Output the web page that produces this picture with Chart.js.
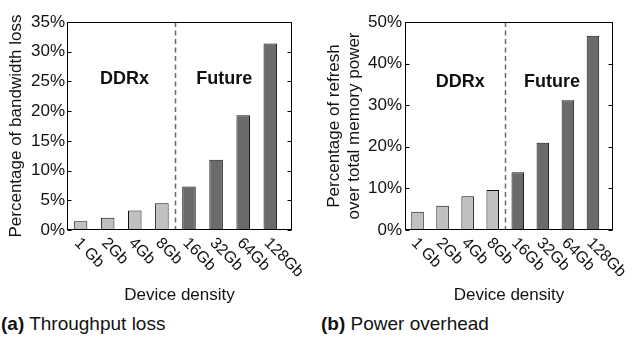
<!DOCTYPE html>
<html>
<head>
<meta charset="utf-8">
<script src="https://cdn.jsdelivr.net/npm/chart.js@4.4.1/dist/chart.umd.min.js"></script>
<style>
  html, body { margin: 0; padding: 0; background: #fff; }
  body { width: 633px; height: 343px; position: relative; overflow: hidden;
         font-family: "Liberation Sans", Arial, Helvetica, sans-serif; color: #111; }
  canvas { position: absolute; top: 0; }
  #ca { left: 0; }
  #cb { left: 316px; }
  .cap { position: absolute; top: 312px; font-size: 19px; line-height: 24px; white-space: nowrap; }
  #capA { left: 1px; }
  #capB { left: 321px; }
</style>
</head>
<body>
<canvas id="ca" width="316" height="310"></canvas>
<canvas id="cb" width="317" height="310"></canvas>
<div class="cap" id="capA"><b>(a)</b> Throughput loss</div>
<div class="cap" id="capB"><b>(b)</b> Power overhead</div>
<script>
// ---- data ----
const categories = ['1 Gb', '2Gb', '4Gb', '8Gb', '16Gb', '32Gb', '64Gb', '128Gb'];
const generation = ['DDRx', 'DDRx', 'DDRx', 'DDRx', 'Future', 'Future', 'Future', 'Future'];
const bandwidthLoss = [1.46, 2.07, 3.3, 4.5, 7.3, 11.8, 19.3, 31.4];
const refreshPower = [4.4, 5.8, 8.1, 9.6, 13.9, 21.0, 31.2, 46.7];
const xAxisTitle = 'Device density';
const yTitleA = 'Percentage of bandwidth loss';
const yTitleB = ['Percentage of refresh', 'over total memory power'];
const yTicksA = { max: 35, step: 5 };
const yTicksB = { max: 50, step: 10 };

// ---- styles ----
const FONT = '"Liberation Sans", Arial, Helvetica, sans-serif';
const colorFor = { DDRx: '#c0c0c0', Future: '#6b6b6b' };

const framePlugin = {
  id: 'frame',
  afterDraw(chart, args, opts) {
    const { ctx, chartArea: a, scales } = chart;
    const xs = scales.x, ys = scales.y;
    ctx.save();
    // dashed separator between generations
    const sx = Math.round(xs.getPixelForValue(opts.sepAt)) + 0.5;
    ctx.strokeStyle = '#6a6a6a';
    ctx.lineWidth = 1.5;
    ctx.setLineDash([5, 3.5]);
    ctx.beginPath();
    ctx.moveTo(sx, a.top);
    ctx.lineTo(sx, a.bottom);
    ctx.stroke();
    ctx.setLineDash([]);
    // box
    ctx.strokeStyle = '#000';
    ctx.lineWidth = 1;
    const L = Math.round(a.left) + 0.5, R = Math.round(a.right) - 0.5;
    const T = Math.round(a.top) + 0.5, B = Math.round(a.bottom) - 0.5;
    ctx.strokeRect(L, T, R - L, B - T);
    // inward y tick marks on both sides
    ys.ticks.forEach(t => {
      const y = Math.round(ys.getPixelForValue(t.value)) + 0.5;
      ctx.beginPath();
      ctx.moveTo(L, y); ctx.lineTo(L + 4, y);
      ctx.moveTo(R, y); ctx.lineTo(R - 4, y);
      ctx.stroke();
    });
    // rotated category labels
    ctx.fillStyle = '#111';
    ctx.font = '16px ' + FONT;
    ctx.textAlign = 'left';
    ctx.textBaseline = 'top';
    opts.labels.forEach((lab, i) => {
      const x = xs.getPixelForValue(i + 1);
      ctx.save();
      ctx.translate(x + 2, a.bottom + 5);
      ctx.rotate(Math.PI / 4);
      ctx.fillText(lab, 0, 0);
      ctx.restore();
    });
    // region annotations
    ctx.font = 'bold 18px ' + FONT;
    ctx.textAlign = 'center';
    ctx.textBaseline = 'middle';
    opts.notes.forEach(n => {
      ctx.fillText(n.text, xs.getPixelForValue(n.x), ys.getPixelForValue(n.y));
    });
    ctx.restore();
  }
};

function makeChart(id, values, yTitle, yT, geom) {
  return new Chart(document.getElementById(id), {
    type: 'bar',
    data: {
      datasets: [{
        data: values.map((v, i) => ({ x: i + 1, y: v })),
        backgroundColor: generation.map(g => colorFor[g]),
        borderColor: '#111',
        borderWidth: 1,
        barPercentage: 0.5,
        categoryPercentage: 1.0
      }]
    },
    options: {
      responsive: false,
      animation: false,
      devicePixelRatio: 1,
      layout: { padding: { top: geom.top, right: geom.right, left: 0, bottom: 0 } },
      plugins: {
        legend: { display: false },
        tooltip: { enabled: false },
        frame: {
          sepAt: 4.5,
          labels: categories,
          notes: [
            { text: 'DDRx', x: geom.ddrxX, y: geom.noteY },
            { text: 'Future', x: geom.futX, y: geom.noteY }
          ]
        }
      },
      scales: {
        x: {
          type: 'linear',
          min: 0.5,
          max: 8.8,
          offset: false,
          grid: { display: false, drawTicks: false },
          border: { display: false },
          ticks: { display: false },
          title: {
            display: true, text: xAxisTitle, color: '#111',
            font: { family: FONT, size: 17 }, padding: { top: 0, bottom: 4 }
          },
          afterFit(s) { s.height = geom.h - geom.bottom; }
        },
        y: {
          min: 0,
          max: yT.max,
          grid: { display: false, drawTicks: false },
          border: { display: false },
          ticks: {
            stepSize: yT.step, padding: geom.tickPad, color: '#111',
            font: { family: FONT, size: 17 },
            callback: v => v + '%'
          },
          title: {
            display: true, text: yTitle, color: '#111',
            font: { family: FONT, size: 17 }, padding: { top: geom.titlePad, bottom: 0 }
          },
          afterFit(s) { s.width = geom.left; }
        }
      }
    },
    plugins: [framePlugin]
  });
}

makeChart('ca', bandwidthLoss, yTitleA, yTicksA,
  { h: 310, left: 67, right: 316 - 292, top: 22, bottom: 230, tickPad: 2, titlePad: 6,
    ddrxX: 2.62, futX: 6.3, noteY: 25.4 });
makeChart('cb', refreshPower, yTitleB, yTicksB,
  { h: 310, left: 89, right: 317 - 297, top: 22, bottom: 230, tickPad: 3, titlePad: 8,
    ddrxX: 2.7, futX: 6.37, noteY: 35.6 });
</script>
</body>
</html>
